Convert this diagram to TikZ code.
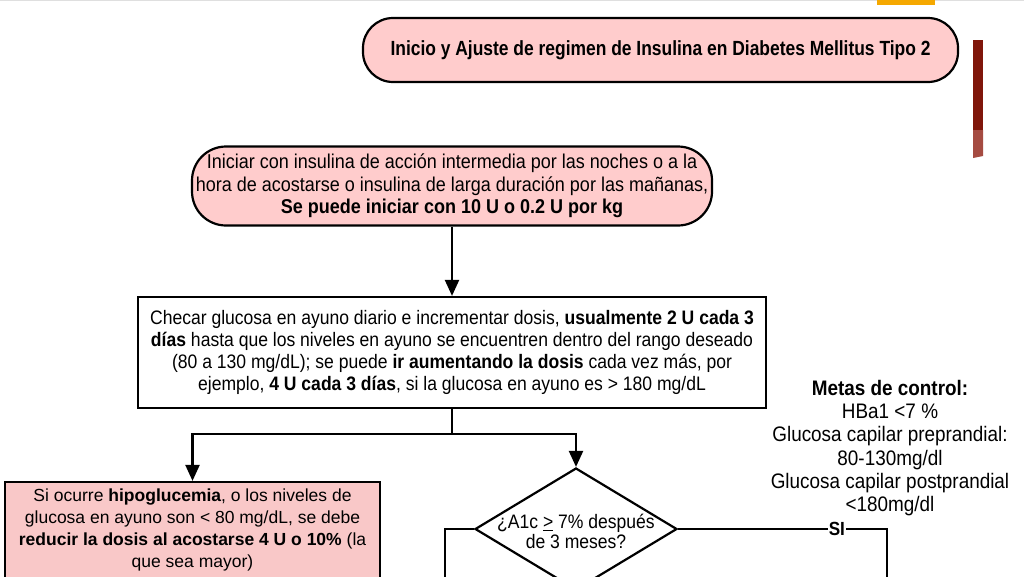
\documentclass[tikz,border=0pt]{standalone}
\usepackage{fontspec}
\setmainfont{Liberation Sans}
\newfontfamily\narrowfont{Liberation Sans}[FakeStretch=0.9]
\newfontfamily\titlefont{Liberation Sans}[FakeStretch=0.85]
\usetikzlibrary{arrows.meta,shapes.geometric}
\definecolor{boxpink}{RGB}{255,204,204}
\definecolor{hipopink}{RGB}{249,200,200}
\definecolor{barred}{RGB}{128,22,10}
\definecolor{barlight}{RGB}{165,75,65}
\definecolor{slideorange}{RGB}{245,168,0}
\begin{document}
\begin{tikzpicture}[x=1pt,y=-1pt,
  capsule/.style={draw,line width=2.2pt,fill=boxpink,rounded corners=30pt,align=center,inner sep=0pt},
  stepbox/.style={draw,line width=2.2pt,align=center,inner sep=0pt},
  decision/.style={diamond,draw,line width=2.2pt,inner sep=0pt,minimum width=202pt,minimum height=122pt},
  flow/.style={line width=2.2pt,-{Triangle[width=14pt,length=16pt]}},
  link/.style={line width=2.2pt}]
\useasboundingbox (0,0) rectangle (1024,576);
\clip (0,0) rectangle (1024,576);
\draw[gray!25,line width=1pt] (0,0.5) -- (1024,0.5);
\fill[slideorange] (877,0) rectangle (935,5);
\fill[barred] (973,40) rectangle (983,130);
\fill[barlight] (973,130) -- (983,130) -- (983,156) -- (973,158) -- cycle;

\node[capsule,minimum width=595pt,minimum height=64pt,font=\titlefont\bfseries\fontsize{20.5}{24}\selectfont] (title) at (660.5,50) {Inicio y Ajuste de regimen de Insulina en Diabetes Mellitus Tipo 2};
\node[capsule,minimum width=520pt,minimum height=79pt,rounded corners=34pt,font=\narrowfont\fontsize{20}{22.5}\selectfont] (start) at (452,186) {Iniciar con insulina de acción intermedia por las noches o a la\\ hora de acostarse o insulina de larga duración por las mañanas,\\ \textbf{Se puede iniciar con 10 U o 0.2 U por kg}};
\node[stepbox,minimum width=628pt,minimum height=111pt,font=\narrowfont\fontsize{19.5}{21.8}\selectfont] (check) at (452,352.5) {Checar glucosa en ayuno diario e incrementar dosis, \textbf{usualmente 2 U cada 3}\\ \textbf{días} hasta que los niveles en ayuno se encuentren dentro del rango deseado\\ (80 a 130 mg/dL); se puede \textbf{ir aumentando la dosis} cada vez más, por\\ ejemplo, \textbf{4 U cada 3 días}, si la glucosa en ayuno es > 180 mg/dL};
\node[stepbox,fill=hipopink,minimum width=375pt,minimum height=96pt,font=\fontsize{17.5}{22}\selectfont] (hipo) at (192.5,530) {Si ocurre \textbf{hipoglucemia}, o los niveles de\\ glucosa en ayuno son < 80 mg/dL, se debe\\ \textbf{reducir la dosis al acostarse 4 U o 10\%} (la\\ que sea mayor)};
\node[decision,label={[align=center,yshift=-2.5pt,font=\narrowfont\fontsize{19.5}{20.5}\selectfont]center:{¿A1c \underline{>} 7\% después\\ de 3 meses?}}] (a1c) at (576,529) {};
\node[align=center,font=\narrowfont\fontsize{21}{23.2}\selectfont] (goals) at (890,448) {\textbf{Metas de control:}\\ HBa1 <7 \%\\ Glucosa capilar preprandial:\\ 80-130mg/dl\\ Glucosa capilar postprandial\\ <180mg/dl};

\coordinate (noend) at (445,590);
\coordinate (yesend) at (887,590);
\draw[flow] (start) -- (check);
\draw[link] (check.south) -- ++(0,25) coordinate (split);
\draw[flow] (split) -| (hipo.north);
\draw[flow] (split) -| (a1c.north);
\draw[link] (a1c.west) -| (noend);
\draw[link] (a1c.east) -| node[pos=0.38,fill=white,inner sep=1pt,font=\narrowfont\bfseries\fontsize{19}{19}\selectfont] (yes) {SI} (yesend);
\end{tikzpicture}
\end{document}
